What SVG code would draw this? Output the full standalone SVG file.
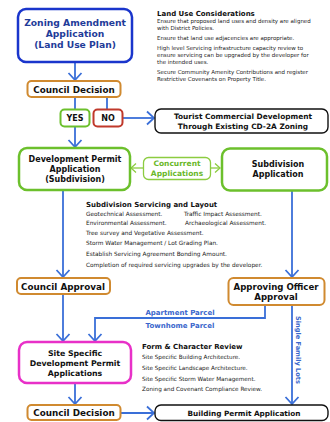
<svg xmlns="http://www.w3.org/2000/svg" width="330" height="422" viewBox="0 0 330 422">
<defs>
<style>
.bx{font-family:"DejaVu Sans",Verdana,sans-serif;font-weight:bold;text-anchor:middle;fill:#111}
.nt{font-family:"DejaVu Sans",Verdana,sans-serif;fill:#222}
.nh{font-family:"DejaVu Sans",Verdana,sans-serif;font-weight:bold;fill:#111;font-size:7px}
.ln{fill:none;stroke:#3a6fd8;stroke-width:1.8}
.lg{fill:none;stroke:#8ccc40;stroke-width:1.3}
.bl{font-family:"DejaVu Sans",Verdana,sans-serif;font-weight:bold;fill:#3a66cc}
</style>
<marker id="ah" viewBox="-1 -8 9 16" refX="7" refY="0" markerWidth="9" markerHeight="16" markerUnits="userSpaceOnUse" orient="auto">
<path d="M0,-6.5 L7,0 L0,6.5" fill="none" stroke="#3a6fd8" stroke-width="1.8"/>
</marker>
<marker id="ag" viewBox="-1 -6 7 12" refX="5" refY="0" markerWidth="7" markerHeight="12" markerUnits="userSpaceOnUse" orient="auto">
<path d="M0,-4.5 L5,0 L0,4.5" fill="none" stroke="#8ccc40" stroke-width="1.3"/>
</marker>
</defs>
<rect width="330" height="422" fill="#fff"/>

<g id="connectors">
<path class="ln" d="M75,62 V80" marker-end="url(#ah)"/>
<path class="ln" d="M75,97 V109"/>
<path class="ln" d="M107,97 V109"/>
<path class="ln" d="M123,118 H154" marker-end="url(#ah)"/>
<path class="ln" d="M75,127 V147" marker-end="url(#ah)"/>
<path class="lg" d="M143,168 H131" marker-end="url(#ag)"/>
<path class="lg" d="M211,168 H220" marker-end="url(#ag)"/>
<path class="ln" d="M63,190 V277" marker-end="url(#ah)"/>
<path class="ln" d="M292,191 V277" marker-end="url(#ah)"/>
<path class="ln" d="M63,294 V341" marker-end="url(#ah)"/>
<path class="ln" d="M265,305 V318 H95 V341" marker-end="url(#ah)"/>
<path class="ln" d="M292,305 V404" marker-end="url(#ah)"/>
<path class="ln" d="M75,383 V404" marker-end="url(#ah)"/>
<path class="ln" d="M121,413 H154" marker-end="url(#ah)"/>
<text class="bl" font-size="7" x="180" y="314.5" text-anchor="middle">Apartment Parcel</text>
<text class="bl" font-size="7" x="180" y="328" text-anchor="middle">Townhome Parcel</text>
<text class="bl" font-size="6.6" transform="translate(296,350) rotate(90)" text-anchor="middle">Single Family Lots</text>
</g>

<g id="zoning">
<rect x="18" y="9" width="114" height="53" rx="8" fill="#fff" stroke="#1a35cc" stroke-width="2.5"/>
<text class="bx" font-size="9.2" style="fill:#1f3c99"><tspan x="75" y="26">Zoning Amendment</tspan><tspan x="75" y="37">Application</tspan><tspan x="75" y="48">(Land Use Plan)</tspan></text>
</g>

<g id="council1">
<rect x="27.5" y="81" width="93" height="16" rx="4" fill="#fff" stroke="#d08a30" stroke-width="2"/>
<text class="bx" font-size="8.8" x="74" y="92.5">Council Decision</text>
</g>

<g id="yes">
<rect x="60.5" y="109.5" width="29" height="17" rx="4" fill="#fff" stroke="#6cc02c" stroke-width="2"/>
<text class="bx" font-size="8" x="75" y="121">YES</text>
</g>

<g id="no">
<rect x="93.5" y="109.5" width="29" height="17" rx="4" fill="#fff" stroke="#c0392b" stroke-width="2"/>
<text class="bx" font-size="8" x="108" y="121">NO</text>
</g>

<g id="tourist">
<rect x="155" y="109" width="173" height="24" rx="6" fill="#fff" stroke="#111" stroke-width="1.4"/>
<text class="bx" font-size="7.4"><tspan x="243" y="119">Tourist Commercial Development</tspan><tspan x="243" y="128.5">Through Existing CD-2A Zoning</tspan></text>
</g>

<g id="devpermit">
<rect x="19" y="148" width="111" height="42" rx="8" fill="#fff" stroke="#6cc02c" stroke-width="2.5"/>
<text class="bx" font-size="8"><tspan x="75" y="162">Development Permit</tspan><tspan x="75" y="172">Application</tspan><tspan x="75" y="182">(Subdivision)</tspan></text>
</g>

<g id="concurrent">
<rect x="143.5" y="157.5" width="67" height="22" rx="5" fill="#fff" stroke="#8ccc40" stroke-width="1.3"/>
<text class="bx" font-size="7.5" style="fill:#6ab82a"><tspan x="177" y="166">Concurrent</tspan><tspan x="177" y="176">Applications</tspan></text>
</g>

<g id="subdivision">
<rect x="222" y="148.5" width="105" height="42" rx="8" fill="#fff" stroke="#6cc02c" stroke-width="2.5"/>
<text class="bx" font-size="8"><tspan x="278" y="167">Subdivision</tspan><tspan x="278" y="177">Application</tspan></text>
</g>

<g id="landuse">
<text class="nh" x="157" y="15.5">Land Use Considerations</text>
<text class="nt" font-size="5.5"><tspan x="157" y="23">Ensure that proposed land uses and density are aligned</tspan><tspan x="157" y="30">with District Policies.</tspan><tspan x="157" y="40">Ensure that land use adjacencies are appropriate.</tspan><tspan x="157" y="50">High level Servicing infrastructure capacity review to</tspan><tspan x="157" y="57">ensure servicing can be upgraded by the developer for</tspan><tspan x="157" y="64">the intended uses.</tspan><tspan x="157" y="73.5">Secure Community Amenity Contributions and register</tspan><tspan x="157" y="80.5">Restrictive Covenants on Property Title.</tspan></text>
</g>

<g id="servicing">
<text class="nh" x="86" y="207">Subdivision Servicing and Layout</text>
<text class="nt" font-size="5.8"><tspan x="86" y="216">Geotechnical Assessment.</tspan><tspan x="184" y="216">Traffic Impact Assessment.</tspan><tspan x="86" y="225">Environmental Assessment.</tspan><tspan x="185" y="225">Archaeological Assessment.</tspan><tspan x="86" y="235">Tree survey and Vegetative Assessment.</tspan><tspan x="86" y="245">Storm Water Management / Lot Grading Plan.</tspan><tspan x="86" y="256">Establish Servicing Agreement Bonding Amount.</tspan><tspan x="86" y="267">Completion of required servicing upgrades by the developer.</tspan></text>
</g>

<g id="councilapproval">
<rect x="17" y="278" width="93" height="16" rx="4" fill="#fff" stroke="#d08a30" stroke-width="2"/>
<text class="bx" font-size="8.8" x="63" y="289.5">Council Approval</text>
</g>

<g id="approving">
<rect x="228.5" y="278" width="96" height="27" rx="5" fill="#fff" stroke="#d08a30" stroke-width="2"/>
<text class="bx" font-size="8.6"><tspan x="276" y="289.5">Approving Officer</tspan><tspan x="276" y="300">Approval</tspan></text>
</g>

<g id="sitespecific">
<rect x="19" y="342" width="112" height="41" rx="8" fill="#fff" stroke="#e830c8" stroke-width="2.5"/>
<text class="bx" font-size="7.8"><tspan x="75" y="356">Site Specific</tspan><tspan x="75" y="366">Development Permit</tspan><tspan x="75" y="376">Applications</tspan></text>
</g>

<g id="formchar">
<text class="nh" x="142" y="348.5">Form &amp; Character Review</text>
<text class="nt" font-size="5.7"><tspan x="142" y="359">Site Specific Building Architecture.</tspan><tspan x="142" y="370">Site Specific Landscape Architecture.</tspan><tspan x="142" y="381">Site Specific Storm Water Management.</tspan><tspan x="142" y="391">Zoning and Covenant Compliance Review.</tspan></text>
</g>

<g id="council2">
<rect x="27.5" y="405" width="93" height="15" rx="4" fill="#fff" stroke="#d08a30" stroke-width="2"/>
<text class="bx" font-size="8.8" x="74" y="416">Council Decision</text>
</g>

<g id="building">
<rect x="155" y="405" width="173" height="15.5" rx="6" fill="#fff" stroke="#111" stroke-width="1.4"/>
<text class="bx" font-size="7.3" x="244" y="415.5">Building Permit Application</text>
</g>
</svg>
